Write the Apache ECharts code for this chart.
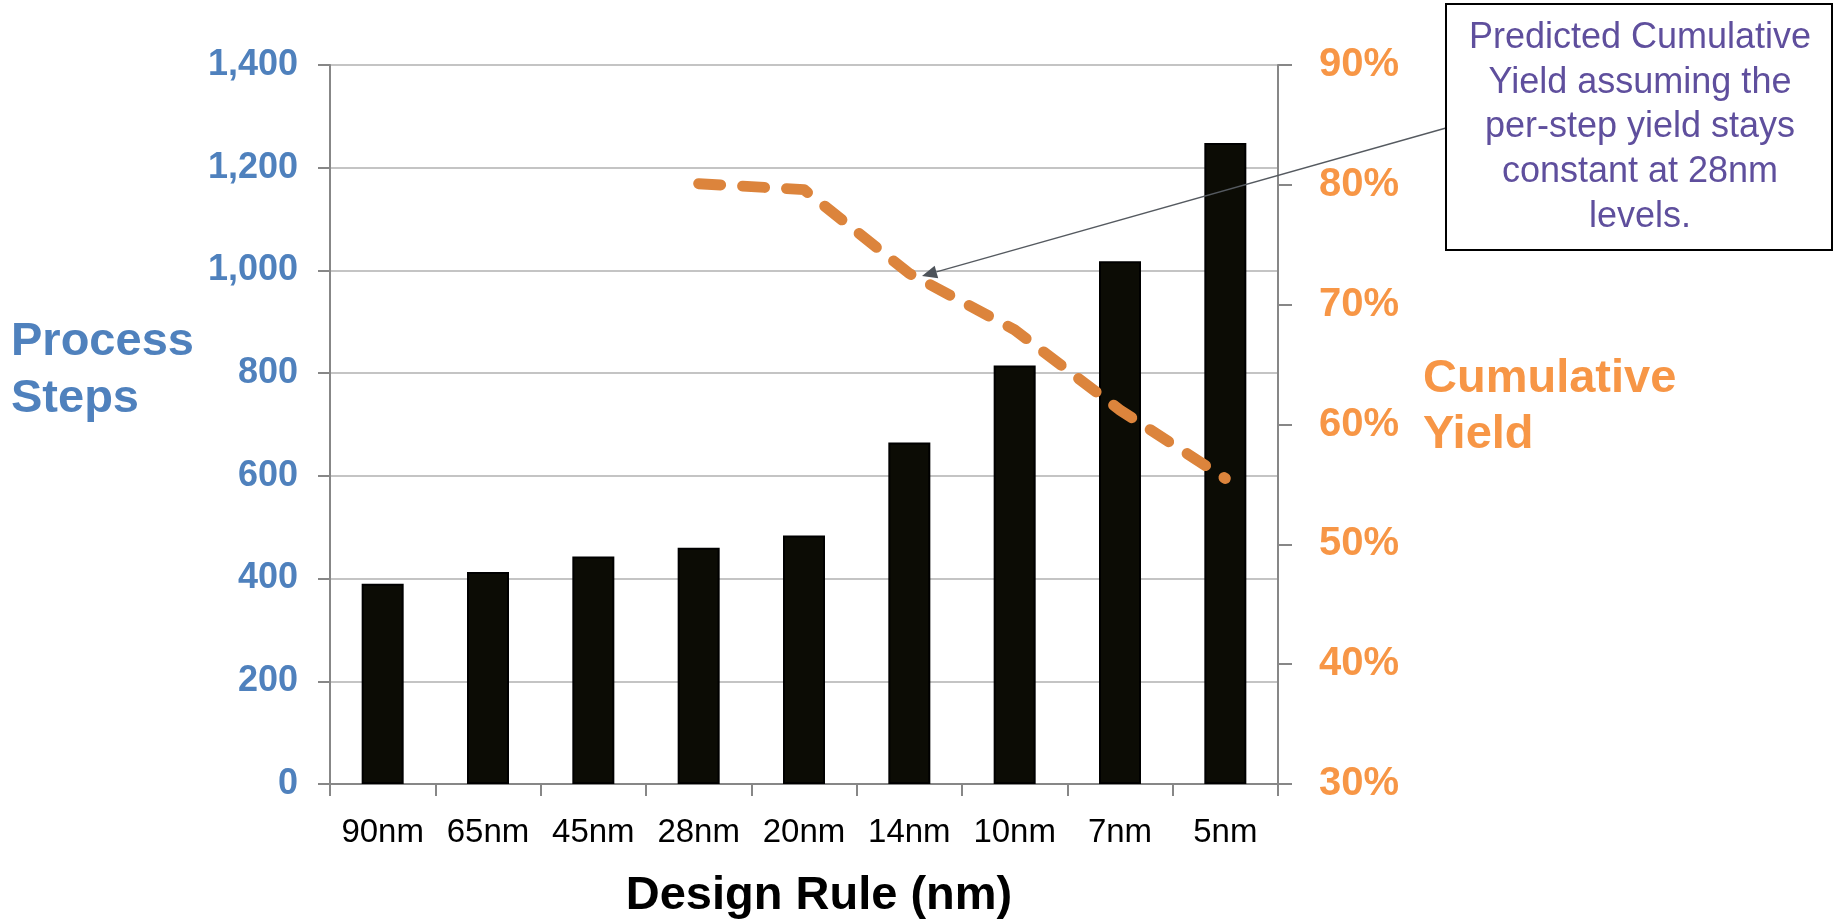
<!DOCTYPE html>
<html>
<head>
<meta charset="utf-8">
<script src="https://cdn.jsdelivr.net/npm/echarts@6/dist/echarts.min.js"></script>
<style>
html,body{margin:0;padding:0;background:#fff;}
#chart{width:1835px;height:919px;}
</style>
</head>
<body>
<div id="chart"></div>
<script>
const categories = ['90nm','65nm','45nm','28nm','20nm','14nm','10nm','7nm','5nm'];
const processSteps = [390, 413, 443, 460, 484, 665, 815, 1018, 1248];
const cumulativeYield = [null, null, null, 0.801, 0.796, 0.726, 0.679, 0.612, 0.555];
const leftTicks = { min: 0, max: 1400, interval: 200 };
const rightTicks = { min: 0.3, max: 0.9, interval: 0.1 };
const annotationLines = ['Predicted Cumulative', 'Yield assuming the', 'per-step yield stays', 'constant at 28nm', 'levels.'];

const FONT = '"Liberation Sans", Arial, sans-serif';
const chart = echarts.init(document.getElementById('chart'));

// arrow geometry (annotation callout)
const arrowStart = [1446, 128];
const arrowTip = [922, 276];
const dx = arrowTip[0] - arrowStart[0], dy = arrowTip[1] - arrowStart[1];
const len = Math.sqrt(dx*dx + dy*dy);
const ux = dx/len, uy = dy/len;
const headLen = 15, headHalf = 6.5;
const bx = arrowTip[0] - ux*headLen, by = arrowTip[1] - uy*headLen;
const headPts = [
  arrowTip,
  [bx - uy*headHalf, by + ux*headHalf],
  [bx + uy*headHalf, by - ux*headHalf]
];

chart.setOption({
  animation: false,
  backgroundColor: '#ffffff',
  textStyle: { fontFamily: FONT },
  grid: { left: 330, right: 557, top: 65, bottom: 135, containLabel: false },
  xAxis: {
    type: 'category',
    data: categories,
    boundaryGap: true,
    axisLine: { show: true, lineStyle: { color: '#878787', width: 2 } },
    axisTick: { show: true, length: 12, alignWithLabel: false, lineStyle: { color: '#878787', width: 2 } },
    axisLabel: { interval: 0, color: '#000000', fontSize: 33, fontFamily: FONT, margin: 32 },
    splitLine: { show: false }
  },
  yAxis: [
    {
      type: 'value',
      position: 'left',
      min: leftTicks.min, max: leftTicks.max, interval: leftTicks.interval,
      axisLine: { show: true, lineStyle: { color: '#878787', width: 2 } },
      axisTick: { show: true, length: 12, lineStyle: { color: '#878787', width: 2 } },
      axisLabel: {
        color: '#4f81bd', fontSize: 36, fontWeight: 'bold', fontFamily: FONT, margin: 32,
        formatter: v => v.toLocaleString('en-US')
      },
      splitLine: { show: true, lineStyle: { color: '#c4c4c4', width: 2 } }
    },
    {
      type: 'value',
      position: 'right',
      min: rightTicks.min, max: rightTicks.max, interval: rightTicks.interval,
      axisLine: { show: true, lineStyle: { color: '#878787', width: 2 } },
      axisTick: { show: true, length: 14, lineStyle: { color: '#878787', width: 2 } },
      axisLabel: {
        color: '#f79646', fontSize: 40, fontWeight: 'bold', fontFamily: FONT, margin: 41,
        formatter: v => Math.round(v*100) + '%'
      },
      splitLine: { show: false }
    }
  ],
  series: [
    {
      name: 'Process Steps',
      type: 'bar',
      data: processSteps,
      yAxisIndex: 0,
      barWidth: 42,
      itemStyle: { color: '#0c0c05', borderColor: '#000000', borderWidth: 2 },
      z: 2
    },
    {
      name: 'Cumulative Yield',
      type: 'line',
      data: cumulativeYield,
      yAxisIndex: 1,
      showSymbol: false,
      symbol: 'none',
      connectNulls: false,
      lineStyle: { color: '#dc843c', width: 11, type: [22, 22], cap: 'round', join: 'round' },
      z: 3
    }
  ],
  graphic: [
    {
      type: 'text', z: 10,
      style: {
        text: 'Process\nSteps', x: 11, y: 371,
        font: 'bold 47px ' + FONT, fill: '#4f81bd',
        align: 'left', verticalAlign: 'middle', textAlign: 'left', textVerticalAlign: 'middle',
        lineHeight: 57
      }
    },
    {
      type: 'text', z: 10,
      style: {
        text: 'Cumulative\nYield', x: 1423, y: 407,
        font: 'bold 47px ' + FONT, fill: '#f79646',
        align: 'left', verticalAlign: 'middle', textAlign: 'left', textVerticalAlign: 'middle',
        lineHeight: 56
      }
    },
    {
      type: 'text', z: 10,
      style: {
        text: 'Design Rule (nm)', x: 819, y: 896,
        font: 'bold 47px ' + FONT, fill: '#000000',
        align: 'center', verticalAlign: 'middle', textAlign: 'center', textVerticalAlign: 'middle'
      }
    },
    {
      type: 'line', z: 100,
      shape: { x1: arrowStart[0], y1: arrowStart[1], x2: bx, y2: by },
      style: { stroke: '#555a60', lineWidth: 1.3 }
    },
    {
      type: 'polygon', z: 100,
      shape: { points: headPts },
      style: { fill: '#4d535a' }
    },
    {
      type: 'rect', z: 100,
      shape: { x: 1446, y: 4, width: 386, height: 246 },
      style: { fill: '#ffffff', stroke: '#000000', lineWidth: 2 }
    },
    {
      type: 'text', z: 101,
      style: {
        text: annotationLines.join('\n'), x: 1640, y: 127.5,
        font: '36px ' + FONT, fill: '#5f4f9d',
        align: 'center', verticalAlign: 'middle', textAlign: 'center', textVerticalAlign: 'middle',
        lineHeight: 44.7
      }
    }
  ]
});
</script>
</body>
</html>
